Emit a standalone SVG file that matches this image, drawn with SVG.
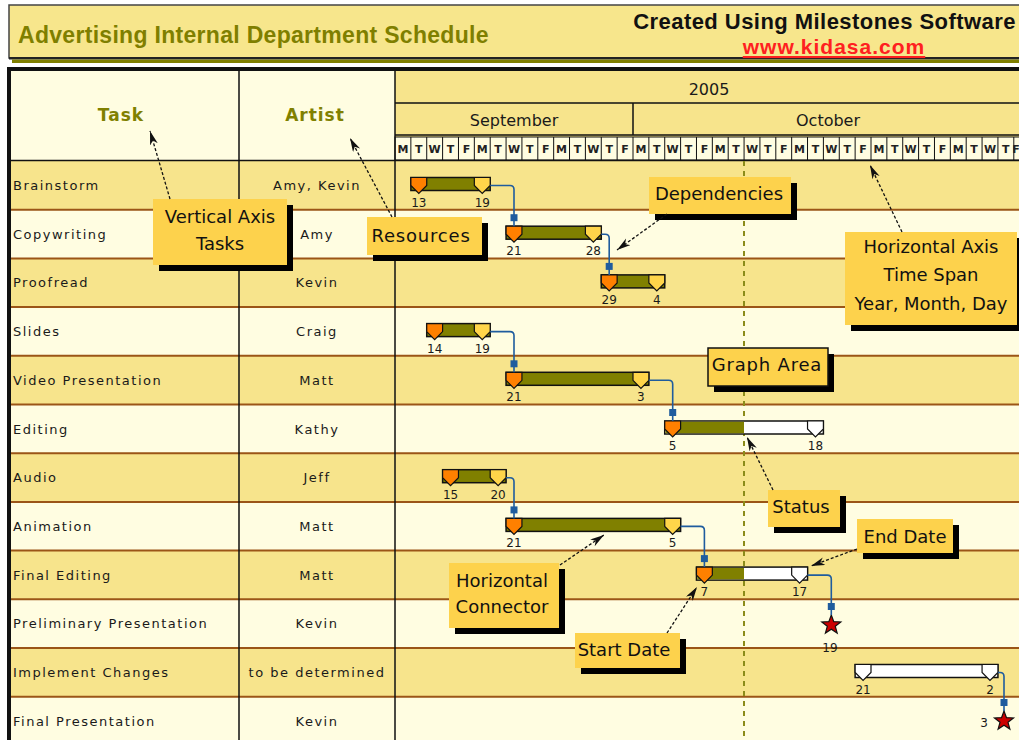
<svg xmlns="http://www.w3.org/2000/svg" xmlns:xlink="http://www.w3.org/1999/xlink" width="1019" height="740" viewBox="0 0 1019 740">
<style>
.tn{font-family:"DejaVu Sans",sans-serif;font-size:13px;letter-spacing:1.5px;fill:#1a1a1a}
.an{font-family:"DejaVu Sans",sans-serif;font-size:13px;letter-spacing:1.5px;fill:#1a1a1a;text-anchor:middle}
.dl{font-family:"DejaVu Sans",sans-serif;font-size:12px;fill:#1a1a1a;text-anchor:middle}
.bar{fill:#808000;stroke:#111;stroke-width:1.5}
.rem{fill:#fff;stroke:#111;stroke-width:1.5}
.prog{fill:#808000}
.st{fill:#FF8000;stroke:#111;stroke-width:1.2}
.en{fill:#FFD54A;stroke:#111;stroke-width:1.2}
.wm{fill:#fff;stroke:#111;stroke-width:1.2}
.star{fill:#CC0000;stroke:#111;stroke-width:1.2}
.ry{fill:#F7E48C}
.rc{fill:#FFFDE1}
.rl{stroke:#9B5517;stroke-width:2}
.vl{stroke:#111;stroke-width:1.5}
.dep{fill:none;stroke:#1F5C9E;stroke-width:1.6;marker-end:url(#depm)}
.call{fill:#FDD24C}
.sh{fill:#000}
.ct{font-family:"DejaVu Sans",sans-serif;font-size:18px;fill:#111;text-anchor:middle}
.ca{fill:none;stroke:#111;stroke-width:1.3;stroke-dasharray:3 2;marker-end:url(#arr)}
.hd{font-family:"DejaVu Sans",sans-serif;font-size:16px;fill:#1a1a1a;text-anchor:middle}
.ch{font-family:"DejaVu Sans",sans-serif;font-size:17px;font-weight:bold;fill:#808000;text-anchor:middle;letter-spacing:1px}
.dy{font-family:"DejaVu Sans",sans-serif;font-size:11px;font-weight:bold;fill:#222;text-anchor:middle}
</style>
<defs>
<path id="mk" d="M0,0 H15.87 V8 L7.93,16 L0,8 Z"/>
<path id="starp" d="M0,-10 L2.47,-3.4 L9.51,-3.09 L4,1.3 L5.88,8.09 L0,4.2 L-5.88,8.09 L-4,1.3 L-9.51,-3.09 L-2.47,-3.4 Z"/>
<marker id="arr" markerUnits="userSpaceOnUse" markerWidth="16" markerHeight="10" refX="14" refY="4" orient="auto" viewBox="0 0 16 10">
<path d="M0,0 L14,4 L0,8 L4,4 Z" fill="#111"/>
</marker>
<marker id="depm" markerUnits="userSpaceOnUse" markerWidth="14" markerHeight="10" refX="14" refY="5" orient="auto" viewBox="0 0 14 10">
<path d="M2,1.5 H9 V8.5 H2 Z" fill="#1F5C9E"/>
</marker>
</defs>

<g id="title">
<rect x="9" y="5" width="1015" height="53" fill="#F7E68C" stroke="#444" stroke-width="1.5"/>
<rect x="9" y="57" width="1015" height="2.5" fill="#222"/>
<rect x="12" y="59.5" width="1012" height="3.5" fill="#7F7F00"/>
<text x="18" y="43" font-family="Liberation Sans, sans-serif" font-weight="bold" font-size="23" letter-spacing="0.3" fill="#7F7F00">Advertising Internal Department Schedule</text>
<text x="1016" y="29" text-anchor="end" font-family="Liberation Sans, sans-serif" font-weight="bold" font-size="22" letter-spacing="0.45" fill="#111">Created Using Milestones Software</text>
<text x="834" y="54" text-anchor="middle" font-family="Liberation Sans, sans-serif" font-weight="bold" font-size="21" letter-spacing="1" fill="#FF2020" text-decoration="underline">www.kidasa.com</text>
</g>

<g id="rows">
<rect class="ry" x="11" y="161" width="1008" height="48.7"/>
<rect class="rc" x="11" y="209.7" width="1008" height="48.7"/>
<rect class="ry" x="11" y="258.4" width="1008" height="48.7"/>
<rect class="rc" x="11" y="307.1" width="1008" height="48.7"/>
<rect class="ry" x="11" y="355.8" width="1008" height="48.7"/>
<rect class="rc" x="11" y="404.5" width="1008" height="48.7"/>
<rect class="ry" x="11" y="453.2" width="1008" height="48.7"/>
<rect class="rc" x="11" y="501.9" width="1008" height="48.7"/>
<rect class="ry" x="11" y="550.6" width="1008" height="48.7"/>
<rect class="rc" x="11" y="599.3" width="1008" height="48.7"/>
<rect class="ry" x="11" y="648" width="1008" height="48.7"/>
<rect class="rc" x="11" y="696.7" width="1008" height="43.3"/>
<path class="rl" d="M11,209.7H1019M11,258.4H1019M11,307.1H1019M11,355.8H1019M11,404.5H1019M11,453.2H1019M11,501.9H1019M11,550.6H1019M11,599.3H1019M11,648H1019M11,696.7H1019"/>
</g>

<g id="header">
<rect x="7" y="67" width="1015" height="4" fill="#111"/>
<rect x="11" y="71" width="228" height="89" fill="#FFFDE1"/>
<rect x="239" y="71" width="156" height="89" fill="#FFFDE1"/>
<rect x="395" y="71" width="624" height="89" fill="#F7E48C"/>
<path class="vl" d="M395,103H1019M395,135H1019M633,103V135"/>
<rect x="395" y="137" width="630" height="23" fill="#FFFDE1" stroke="#111" stroke-width="1"/>
<path stroke="#111" stroke-width="1" d="M410.87,137V160M426.73,137V160M442.6,137V160M458.47,137V160M474.33,137V160M490.2,137V160M506.07,137V160M521.93,137V160M537.8,137V160M553.67,137V160M569.53,137V160M585.4,137V160M601.27,137V160M617.13,137V160M633,137V160M648.87,137V160M664.73,137V160M680.6,137V160M696.47,137V160M712.33,137V160M728.2,137V160M744.07,137V160M759.93,137V160M775.8,137V160M791.67,137V160M807.53,137V160M823.4,137V160M839.27,137V160M855.13,137V160M871,137V160M886.87,137V160M902.73,137V160M918.6,137V160M934.47,137V160M950.33,137V160M966.2,137V160M982.07,137V160M997.93,137V160M1013.8,137V160"/>
<text class="dy" y="153" x="402.93 418.8 434.67 450.53 466.4 482.27 498.13 514 529.87 545.73 561.6 577.47 593.33 609.2 625.07 640.93 656.8 672.67 688.53 704.4 720.27 736.13 752 767.87 783.73 799.6 815.47 831.33 847.2 863.07 878.93 894.8 910.67 926.53 942.4 958.27 974.13 990 1005.87">MTWTFMTWTFMTWTFMTWTFMTWTFMTWTFMTWTFMTWT</text>
<text class="dy" y="153" x="1016">F</text>
<text class="hd" x="709" y="95" font-size="15">2005</text>
<text class="hd" x="514" y="126">September</text>
<text class="hd" x="828" y="126">October</text>
<text class="ch" x="121" y="121">Task</text>
<text class="ch" x="315" y="121">Artist</text>
<path class="vl" d="M7,160.5H1019"/>
<path class="vl" d="M239,71V740M395,71V740"/>
<rect x="7" y="67" width="4" height="673" fill="#111"/>
</g>

<line id="status-date" x1="744" y1="161" x2="744" y2="740" stroke="#8C8C1A" stroke-width="2" stroke-dasharray="5 5"/>

<g id="task-brainstorm">
<text class="tn" x="13" y="190">Brainstorm</text>
<text class="an" x="317" y="190">Amy, Kevin</text>
<rect class="bar" x="410.87" y="177.5" width="79.33" height="13"/>
<use xlink:href="#mk" class="st" x="410.87" y="177.5"/>
<use xlink:href="#mk" class="en" x="474.33" y="177.5"/>
<text class="dl" x="418.8" y="206.5">13</text>
<text class="dl" x="482.27" y="206.5">19</text>
</g>

<g id="task-copywriting">
<text class="tn" x="13" y="238.7">Copywriting</text>
<text class="an" x="317" y="238.7">Amy</text>
<rect class="bar" x="506.07" y="226.2" width="95.2" height="13"/>
<use xlink:href="#mk" class="st" x="506.07" y="226.2"/>
<use xlink:href="#mk" class="en" x="585.4" y="226.2"/>
<text class="dl" x="514" y="255.2">21</text>
<text class="dl" x="593.33" y="255.2">28</text>
</g>

<g id="task-proofread">
<text class="tn" x="13" y="287.4">Proofread</text>
<text class="an" x="317" y="287.4">Kevin</text>
<rect class="bar" x="601.27" y="274.9" width="63.46" height="13"/>
<use xlink:href="#mk" class="st" x="601.27" y="274.9"/>
<use xlink:href="#mk" class="en" x="648.87" y="274.9"/>
<text class="dl" x="609.2" y="303.9">29</text>
<text class="dl" x="656.8" y="303.9">4</text>
</g>

<g id="task-slides">
<text class="tn" x="13" y="336.1">Slides</text>
<text class="an" x="317" y="336.1">Craig</text>
<rect class="bar" x="426.73" y="323.6" width="63.47" height="13"/>
<use xlink:href="#mk" class="st" x="426.73" y="323.6"/>
<use xlink:href="#mk" class="en" x="474.33" y="323.6"/>
<text class="dl" x="434.67" y="352.6">14</text>
<text class="dl" x="482.27" y="352.6">19</text>
</g>

<g id="task-video-presentation">
<text class="tn" x="13" y="384.8">Video Presentation</text>
<text class="an" x="317" y="384.8">Matt</text>
<rect class="bar" x="506.07" y="372.3" width="142.8" height="13"/>
<use xlink:href="#mk" class="st" x="506.07" y="372.3"/>
<use xlink:href="#mk" class="en" x="633" y="372.3"/>
<text class="dl" x="514" y="401.3">21</text>
<text class="dl" x="640.93" y="401.3">3</text>
</g>

<g id="task-editing">
<text class="tn" x="13" y="433.5">Editing</text>
<text class="an" x="317" y="433.5">Kathy</text>
<rect class="rem" x="664.73" y="421" width="158.67" height="13"/>
<rect class="prog" x="665.5" y="421.75" width="78.5" height="11.5"/>
<use xlink:href="#mk" class="st" x="664.73" y="421"/>
<use xlink:href="#mk" class="wm" x="807.53" y="421"/>
<text class="dl" x="672.67" y="450">5</text>
<text class="dl" x="815.47" y="450">18</text>
</g>

<g id="task-audio">
<text class="tn" x="13" y="482.2">Audio</text>
<text class="an" x="317" y="482.2">Jeff</text>
<rect class="bar" x="442.6" y="469.7" width="63.47" height="13"/>
<use xlink:href="#mk" class="st" x="442.6" y="469.7"/>
<use xlink:href="#mk" class="en" x="490.2" y="469.7"/>
<text class="dl" x="450.53" y="498.7">15</text>
<text class="dl" x="498.13" y="498.7">20</text>
</g>

<g id="task-animation">
<text class="tn" x="13" y="530.9">Animation</text>
<text class="an" x="317" y="530.9">Matt</text>
<rect class="bar" x="506.07" y="518.4" width="174.53" height="13"/>
<use xlink:href="#mk" class="st" x="506.07" y="518.4"/>
<use xlink:href="#mk" class="en" x="664.73" y="518.4"/>
<text class="dl" x="514" y="547.4">21</text>
<text class="dl" x="672.67" y="547.4">5</text>
</g>

<g id="task-final-editing">
<text class="tn" x="13" y="579.6">Final Editing</text>
<text class="an" x="317" y="579.6">Matt</text>
<rect class="rem" x="696.47" y="567.1" width="111.06" height="13"/>
<rect class="prog" x="697.2" y="567.85" width="46.8" height="11.5"/>
<use xlink:href="#mk" class="st" x="696.47" y="567.1"/>
<use xlink:href="#mk" class="wm" x="791.67" y="567.1"/>
<text class="dl" x="704.4" y="596.1">7</text>
<text class="dl" x="799.6" y="596.1">17</text>
</g>

<g id="task-preliminary-presentation">
<text class="tn" x="13" y="628.3">Preliminary Presentation</text>
<text class="an" x="317" y="628.3">Kevin</text>
<use xlink:href="#starp" class="star" x="831.3" y="625"/>
<text class="dl" x="830" y="652">19</text>
</g>

<g id="task-implement-changes">
<text class="tn" x="13" y="677">Implement Changes</text>
<text class="an" x="317" y="677">to be determined</text>
<rect class="rem" x="855.13" y="664.5" width="142.8" height="13"/>
<use xlink:href="#mk" class="wm" x="855.13" y="664.5"/>
<use xlink:href="#mk" class="wm" x="982.07" y="664.5"/>
<text class="dl" x="863.07" y="693.5">21</text>
<text class="dl" x="990" y="693.5">2</text>
</g>

<g id="task-final-presentation">
<text class="tn" x="13" y="725.7">Final Presentation</text>
<text class="an" x="317" y="725.7">Kevin</text>
<use xlink:href="#starp" class="star" x="1004" y="721"/>
<text class="dl" x="984" y="727">3</text>
</g>

<g id="callout-vertical-axis">
<rect class="sh" x="159" y="205" width="134" height="66"/>
<rect class="call" x="153" y="199" width="134" height="66"/>
<text class="ct" x="220" y="223">Vertical Axis</text>
<text class="ct" x="220" y="250">Tasks</text>
</g>
<g id="callout-resources">
<rect class="sh" x="373" y="223" width="115" height="38"/>
<rect class="call" x="367" y="217" width="115" height="38"/>
<text class="ct" x="421" y="242" letter-spacing="0.8">Resources</text>
</g>
<g id="callout-dependencies">
<rect class="sh" x="655" y="183" width="142" height="37"/>
<rect class="call" x="649" y="177" width="142" height="37"/>
<text class="ct" x="719" y="200">Dependencies</text>
</g>
<g id="callout-horizontal-axis">
<rect class="sh" x="851" y="238" width="172" height="93"/>
<rect class="call" x="845" y="232" width="172" height="93"/>
<text class="ct" x="931" y="253">Horizontal Axis</text>
<text class="ct" x="931" y="281">Time Span</text>
<text class="ct" x="931" y="310">Year, Month, Day</text>
</g>
<g id="callout-graph-area">
<rect class="sh" x="714" y="354" width="120" height="38"/>
<rect class="call" x="708" y="348" width="120" height="38" stroke="#111" stroke-width="1.5"/>
<text class="ct" x="767" y="371" letter-spacing="0.8">Graph Area</text>
</g>
<g id="callout-status">
<rect class="sh" x="774" y="496" width="72" height="37"/>
<rect class="call" x="768" y="490" width="72" height="37"/>
<text class="ct" x="801" y="513">Status</text>
</g>
<g id="callout-end-date">
<rect class="sh" x="863" y="525" width="96" height="34"/>
<rect class="call" x="857" y="519" width="96" height="34"/>
<text class="ct" x="905" y="543">End Date</text>
</g>
<g id="callout-horizontal-connector">
<rect class="sh" x="455" y="569" width="110" height="65"/>
<rect class="call" x="449" y="563" width="110" height="65"/>
<text class="ct" x="502" y="587">Horizontal</text>
<text class="ct" x="502" y="613">Connector</text>
</g>
<g id="callout-start-date">
<rect class="sh" x="581" y="639" width="105" height="35"/>
<rect class="call" x="575" y="633" width="105" height="35"/>
<text class="ct" x="624" y="656">Start Date</text>
</g>

<g id="connectors">
<path class="dep" d="M490.2,185.5 H510 Q514,185.5 514,189.5 V226.2"/>
<path class="dep" d="M601.27,234.2 H605.2 Q609.2,234.2 609.2,238.2 V274.9"/>
<path class="dep" d="M490.2,331.6 H510 Q514,331.6 514,335.6 V372.3"/>
<path class="dep" d="M648.87,380.3 H668.7 Q672.7,380.3 672.7,384.3 V421"/>
<path class="dep" d="M506.07,477.7 H510 Q514,477.7 514,481.7 V518.4"/>
<path class="dep" d="M680.6,526.4 H700.4 Q704.4,526.4 704.4,530.4 V567.1"/>
<path class="dep" d="M807.53,575.1 H827.3 Q831.3,575.1 831.3,579.1 V615"/>
<path class="dep" d="M997.93,672.5 H1000 Q1004,672.5 1004,676.5 V711"/>
<path class="ca" d="M170,199 L150,131"/>
<path class="ca" d="M392,217 L350,138"/>
<path class="ca" d="M667,214 L617,250"/>
<path class="ca" d="M902,232 L870,165"/>
<path class="ca" d="M773,490 L747,437"/>
<path class="ca" d="M857,549 L811,566"/>
<path class="ca" d="M560,565 L604,535"/>
<path class="ca" d="M667,633 L697,587"/>
</g>
</svg>
